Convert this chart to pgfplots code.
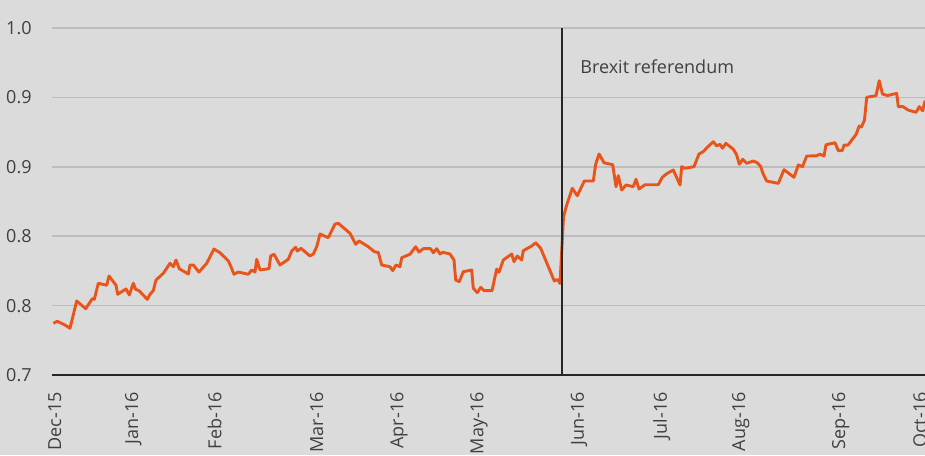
\documentclass[border=0pt]{standalone}
\usepackage{fontspec}
\setmainfont{Open Sans}
\usepackage{pgfplots}
\pgfplotsset{compat=1.18}
\definecolor{bg}{RGB}{219,219,219}
\definecolor{gridc}{RGB}{189,189,189}
\definecolor{linec}{RGB}{232,84,26}
\definecolor{txt}{RGB}{64,64,64}
\begin{document}
\begin{tikzpicture}
\fill[bg] (-26pt,-40pt) rectangle (436.5pt,187.5pt);
\begin{axis}[
  at={(0,0)}, anchor=south west,
  scale only axis, width=436.5pt, height=173.5pt,
  xmin=52, xmax=925, ymin=0.7, ymax=1.0,
  axis x line*=bottom, axis y line*=left,
  x axis line style={-, draw=black!85, line width=0.6pt},
  y axis line style={draw=none},
  major tick length=0pt,
  ymajorgrids, grid style={gridc, line width=0.8pt},
  ytick={0.7,0.76,0.82,0.88,0.94,1.0},
  yticklabels={0.7,0.8,0.8,0.9,0.9,1.0},
  xtick={54.7,133.3,214.7,316.7,399,479,579,661.7,740.7,840.7,920},
  xticklabels={Dec-15,Jan-16,Feb-16,Mar-16,Apr-16,May-16,Jun-16,Jul-16,Aug-16,Sep-16,Oct-16},
  ticklabel style={font=\fontsize{9}{10}\selectfont, text=txt, inner sep=0pt},
  yticklabel style={anchor=east, xshift=-10pt},
  xticklabel style={rotate=90, anchor=east, yshift=0pt, xshift=-8.5pt},
  clip=false,
]
\addplot[linec, line width=1.45pt, line join=round] coordinates {
(53.3,0.7447)(57.3,0.7464)(65,0.7432)(70,0.7404)(76.7,0.7640)(85.7,0.7573)
(92.3,0.7660)(94.3,0.7654)(98.3,0.7793)(106.7,0.7776)(109,0.7856)(116,0.7776)
(117.7,0.7698)(126,0.7744)(129.3,0.7692)(133.3,0.7793)(135.7,0.7741)(139,0.7729)
(147.3,0.7654)(150,0.7698)(153.3,0.7729)(156,0.7821)(163.3,0.7879)(170,0.7966)
(173.3,0.7936)(176,0.7994)(179.3,0.7919)(188.3,0.7873)(190,0.7951)(193.3,0.7951)
(199,0.7890)(206.7,0.7966)(214,0.8089)(220,0.8057)(228.3,0.7986)(230.7,0.7942)
(234,0.7871)(238.3,0.7890)(248.3,0.7871)(251.7,0.7908)(255,0.7890)(256.7,0.8000)
(260,0.7908)(269,0.7919)(270.7,0.8029)(274,0.8044)(280,0.7951)(288.3,0.8000)
(291.7,0.8072)(295.7,0.8104)(297.3,0.8072)(301,0.8095)(310,0.8029)(313.3,0.8046)
(316.7,0.8109)(320,0.8219)(328.3,0.8187)(335,0.8305)(338.3,0.8312)(350,0.8225)
(355.7,0.8130)(359,0.8159)(368.3,0.8109)(374.3,0.8066)(378.3,0.8059)(381.7,0.7951)
(390,0.7936)(392.7,0.7902)(396,0.7951)(400,0.7936)(401.7,0.8014)(410,0.8044)
(415.7,0.8109)(419,0.8063)(423.3,0.8092)(430.7,0.8092)(433.3,0.8057)(436.7,0.8092)
(440,0.8046)(442.7,0.8061)(450,0.8046)(454,0.7994)(455.7,0.7821)(459.3,0.7807)
(463.3,0.7893)(471.7,0.7908)(473.3,0.7750)(477.3,0.7712)(480.7,0.7758)(484,0.7729)
(492,0.7729)(496.7,0.7916)(499,0.7888)(503.3,0.7994)(511.7,0.8046)(514,0.7980)
(517.3,0.8029)(521.7,0.7994)(523.3,0.8075)(531.7,0.8115)(535.7,0.8144)(540.7,0.8095)
(554.3,0.7813)(557.7,0.7826)(560,0.7791)(563.5,0.8366)(566.7,0.8470)(572.3,0.8614)
(577.3,0.8550)(584.3,0.8677)(593.3,0.8677)(595.7,0.8822)(599,0.8911)(604,0.8835)
(612.7,0.8818)(616,0.8628)(618.3,0.8723)(621.7,0.8599)(626,0.8643)(633.3,0.8628)
(636,0.8692)(639,0.8608)(645,0.8645)(658.3,0.8645)(662.3,0.8709)(667.3,0.8744)
(673.3,0.8772)(680,0.8643)(681.7,0.8801)(685,0.8787)(694,0.8801)(699,0.8911)
(703.3,0.8931)(707.3,0.8969)(713.3,0.9017)(716.7,0.8980)(720,0.8995)(722.5,0.8960)
(725.8,0.9003)(733.3,0.8952)(736.5,0.8906)(739.3,0.8822)(742.7,0.8865)(746.7,0.8830)
(753.3,0.8850)(757.3,0.8835)(760.7,0.8801)(763.3,0.8735)(766.7,0.8677)(778.3,0.8657)
(784,0.8775)(794,0.8709)(798.3,0.8816)(802.5,0.8801)(806.7,0.8893)(816.5,0.8895)
(820,0.8909)(824,0.8893)(826,0.8991)(835,0.9008)(838.3,0.8939)(842.3,0.8941)
(844,0.8988)(848,0.8988)(856,0.9079)(859.2,0.9153)(861.5,0.9144)(864.5,0.9205)
(866.7,0.9401)(876,0.9415)(879.2,0.9544)(882.5,0.9429)(887.5,0.9416)(896.7,0.9435)
(898.3,0.9320)(903,0.9320)(908,0.9291)(916,0.9271)(919.3,0.9320)(922.7,0.9284)
(925,0.9372)
};
\draw[black!85, line width=0.6pt] (axis cs:562,0.7) -- (axis cs:562,1.0);
\node[anchor=base west, inner sep=0pt, text=txt, font=\fontsize{9}{10}\selectfont] at (axis cs:580,0.9608) {Brexit referendum};
\end{axis}
\pgfresetboundingbox
\useasboundingbox (-26pt,-40pt) rectangle (436.5pt,187.5pt);
\end{tikzpicture}
\end{document}
